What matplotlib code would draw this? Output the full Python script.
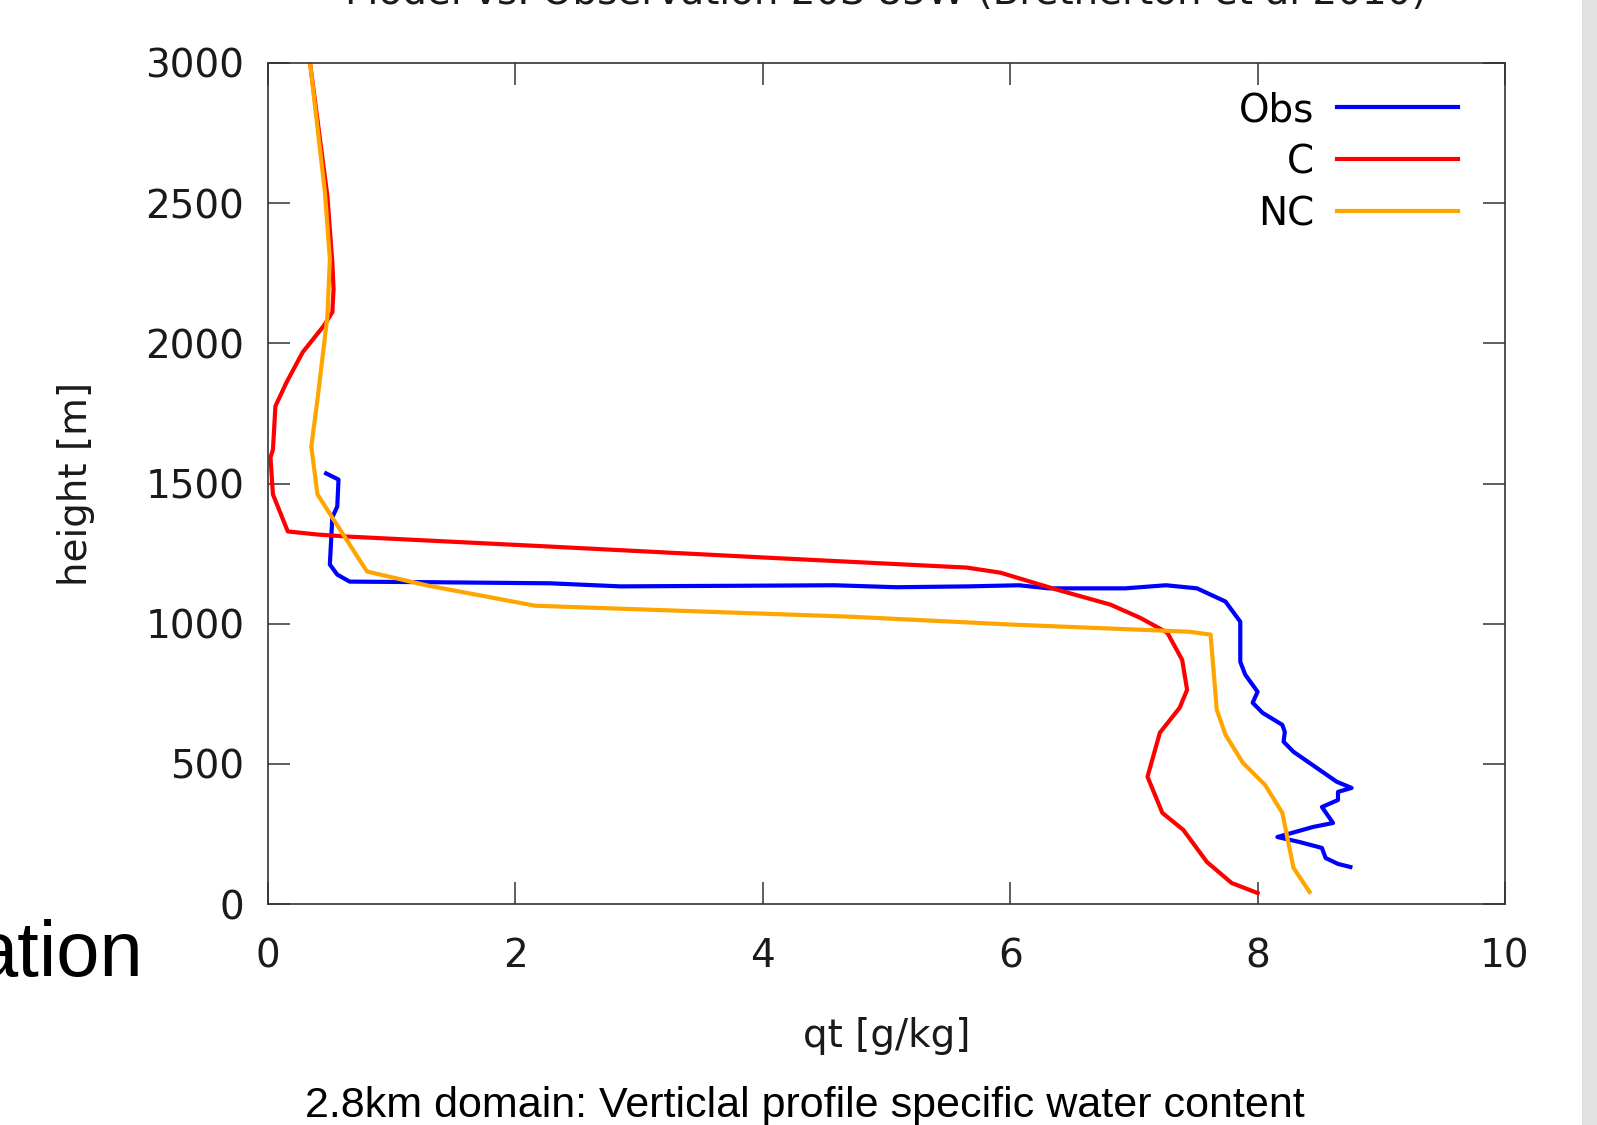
import matplotlib
matplotlib.use("Agg")
import matplotlib.pyplot as plt
from matplotlib.patches import Rectangle

# ── Data ──────────────────────────────────────────────────────
obs_qt = [8.75, 8.65, 8.55, 8.52, 8.34, 8.16, 8.45, 8.61, 8.52, 8.65, 8.65,
          8.76, 8.64, 8.29, 8.21, 8.22, 8.20, 8.04, 7.96, 8.00, 7.90, 7.86,
          7.86, 7.74, 7.51, 7.26, 6.93, 6.31, 6.07, 5.66, 5.08, 4.58, 2.85,
          2.28, 1.29, 0.66, 0.56, 0.50, 0.52, 0.56, 0.57, 0.47]
obs_h = [132, 143, 164, 200, 221, 239, 275, 289, 346, 371, 400,
         414, 436, 543, 579, 614, 639, 682, 718, 757, 818, 864,
         1007, 1079, 1126, 1137, 1126, 1126, 1137, 1133, 1130, 1137, 1133,
         1144, 1148, 1150, 1175, 1211, 1379, 1418, 1514, 1536]

c_qt = [8.00, 7.79, 7.59, 7.40, 7.23, 7.11, 7.21, 7.37, 7.43, 7.39, 7.27,
        7.05, 6.81, 6.38, 5.92, 5.65, 4.01, 2.28, 0.63, 0.40, 0.16, 0.04,
        0.02, 0.04, 0.06, 0.15, 0.28, 0.45, 0.52, 0.53, 0.52, 0.48, 0.34]
c_h = [39, 75, 150, 264, 325, 454, 611, 700, 764, 871, 968,
       1021, 1068, 1121, 1182, 1200, 1236, 1275, 1311, 1318, 1329, 1461,
       1593, 1621, 1776, 1861, 1968, 2062, 2111, 2193, 2289, 2525, 3000]

nc_qt = [8.42, 8.29, 8.20, 8.06, 7.88, 7.74, 7.67, 7.62, 7.45, 7.24, 6.05,
         4.70, 2.16, 1.29, 0.80, 0.40, 0.35, 0.40, 0.48, 0.50, 0.46, 0.34]
nc_h = [43, 129, 325, 425, 504, 604, 693, 961, 971, 975, 996,
        1025, 1064, 1136, 1186, 1461, 1632, 1800, 2096, 2300, 2539, 3000]

x_ticks = [0, 2, 4, 6, 8, 10]
y_ticks = [0, 500, 1000, 1500, 2000, 2500, 3000]

W, H = 1597, 1125
FS = 28
fig = plt.figure(figsize=(W / 100, H / 100), dpi=100)
fig.patch.set_facecolor("white")

# slide decoration: grey strip on the right
fig.patches.append(Rectangle((1582 / W, 0), 15 / W, 1, transform=fig.transFigure,
                             facecolor="#e1e1e1", edgecolor="none", zorder=0))

ax = fig.add_axes([268 / W, (H - 904) / H, (1505 - 268) / W, (904 - 63) / H])

ax.plot(obs_qt, obs_h, color="#0000ff", lw=3, label="Obs")
ax.plot(c_qt, c_h, color="#ff0000", lw=3, label="C")
ax.plot(nc_qt, nc_h, color="#ffa500", lw=3, label="NC")

ax.set_xlim(0, 10)
ax.set_ylim(0, 3000)
ax.set_xticks(x_ticks)
ax.set_yticks(y_ticks)
for s in ax.spines.values():
    s.set_color("#333333")
    s.set_linewidth(1.2)
ax.tick_params(direction="in", length=16, width=1.1, color="#333333",
               top=True, right=True, labelsize=FS, labelcolor="#1a1a1a")
ax.tick_params(axis="x", pad=24)
ax.tick_params(axis="y", pad=17)
ax.set_xlabel("qt [g/kg]", fontsize=FS, labelpad=30, color="#1a1a1a")
ax.set_ylabel("height [m]", fontsize=FS, labelpad=36, color="#1a1a1a")

ax.legend(loc="upper right", bbox_to_anchor=(1458 / W, (H - 91) / H),
          bbox_transform=fig.transFigure, frameon=False, markerfirst=False,
          fontsize=FS, handlelength=3.1, handletextpad=0.6,
          labelspacing=0.36, borderpad=0, borderaxespad=0)

# cut-off slide title, left-hand slide text and caption
fig.text(886 / W, (H - 4) / H, "Model vs. Observation 20S 85W (Bretherton et al 2010)",
         ha="center", va="baseline", fontsize=28, color="#1a1a1a")
fig.text(143 / W, (H - 976) / H, "ation", ha="right", va="baseline",
         fontsize=56, family="Liberation Sans", color="black")
fig.text(805 / W, (H - 1117) / H,
         "2.8km domain: Verticlal profile specific water content",
         ha="center", va="baseline", fontsize=31, family="Liberation Sans",
         color="black")

fig.savefig("out.png", dpi=100)
